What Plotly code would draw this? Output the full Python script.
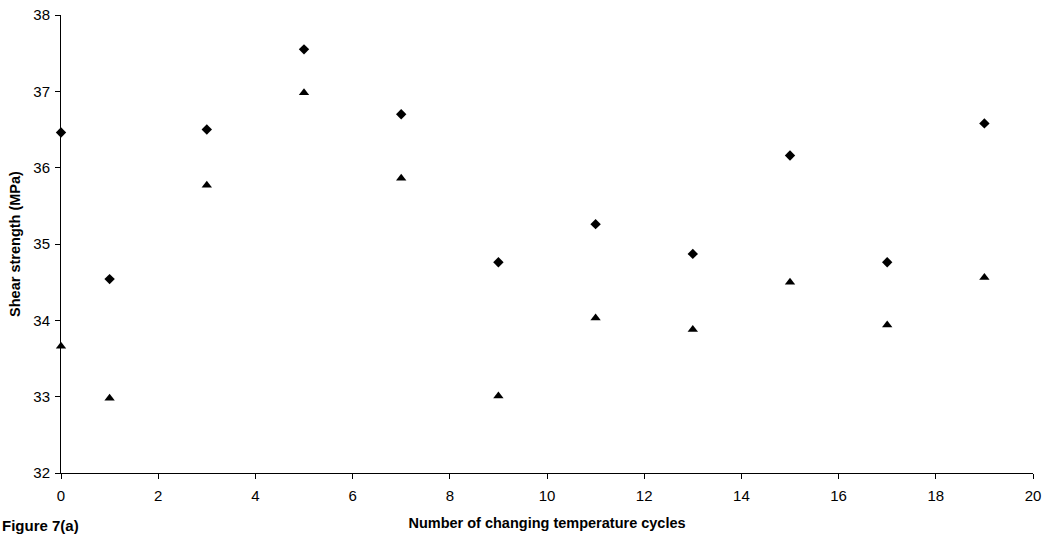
import plotly.graph_objects as go

cycles = [0, 1, 3, 5, 7, 9, 11, 13, 15, 17, 19]
series_diamond = [36.46, 34.54, 36.50, 37.55, 36.70, 34.76, 35.26, 34.87, 36.16, 34.76, 36.58]
series_triangle = [33.66, 32.98, 35.77, 36.98, 35.86, 33.01, 34.03, 33.88, 34.50, 33.94, 34.56]
x_ticks = [0, 2, 4, 6, 8, 10, 12, 14, 16, 18, 20]
y_ticks = [32, 33, 34, 35, 36, 37, 38]

FONT = "Liberation Sans, Arial, sans-serif"

fig = go.Figure()
fig.add_trace(go.Scatter(
    x=cycles, y=series_diamond, mode="markers",
    marker=dict(symbol="diamond", size=8, color="black"),
    cliponaxis=False, showlegend=False, name="diamond"))
fig.add_trace(go.Scatter(
    x=cycles, y=series_triangle, mode="markers",
    marker=dict(symbol="triangle-up", size=9, color="black"),
    cliponaxis=False, showlegend=False, name="triangle"))

fig.update_layout(
    width=1046, height=535,
    margin=dict(l=61, r=13, t=15, b=62),
    paper_bgcolor="white", plot_bgcolor="white",
    font=dict(family=FONT, size=15, color="black"),
    xaxis=dict(
        range=[0, 20], tickvals=x_ticks, showgrid=False, zeroline=False,
        showline=True, linecolor="black", linewidth=1, automargin=False,
        ticks="outside", ticklen=5, tickcolor="black", tickwidth=1,
        tickfont=dict(size=15, family=FONT), ticklabelstandoff=4,
        ticklabeloverflow="allow",
        title=dict(text="<b>Number of changing temperature cycles</b>",
                   font=dict(size=14.5, family=FONT), standoff=14),
    ),
    yaxis=dict(
        range=[32, 38], tickvals=y_ticks, showgrid=False, zeroline=False,
        showline=True, linecolor="black", linewidth=1, automargin=False,
        ticks="outside", ticklen=5, tickcolor="black", tickwidth=1,
        tickfont=dict(size=15, family=FONT), ticklabelstandoff=2,
        ticklabeloverflow="allow",
        title=dict(text="<b>Shear strength (MPa)</b>",
                   font=dict(size=14.5, family=FONT), standoff=9),
    ),
    annotations=[dict(
        text="<b>Figure 7(a)</b>", xref="paper", yref="paper",
        x=-61/972, y=-63/458, xanchor="left", yanchor="bottom",
        showarrow=False, font=dict(size=15, family=FONT))],
)

fig.write_html(
    "out.html",
    config={"displayModeBar": False},
    post_script="document.body.style.margin='0';document.body.style.overflow='hidden';",
)
